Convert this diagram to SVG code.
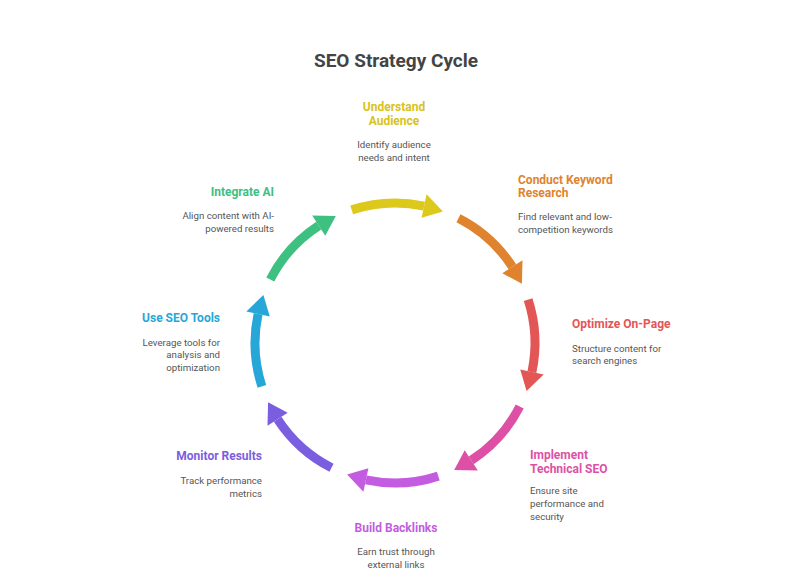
<svg xmlns="http://www.w3.org/2000/svg" xmlns:xlink="http://www.w3.org/1999/xlink" width="792" height="584" viewBox="0 0 792 584">
<style>
text{font-family:Roboto,"Liberation Sans",sans-serif}
.t{font-size:12px;font-weight:bold}
.d{font-size:9.7px;fill:#555}
.m{text-anchor:middle}.e{text-anchor:end}
</style>
<defs>
<g id="arr">
<path d="M351.7,209.9 A140,140 0 0 1 424.1,206.1" fill="none" stroke="currentColor" stroke-width="9"/>
<polygon points="421.6,217.8 426.6,194.3 442.9,211.4" fill="currentColor"/>
</g>
</defs>
<rect width="792" height="584" fill="#fff"/>
<text x="396" y="67" class="m" style="font-size:19px;font-weight:bold;fill:#444">SEO Strategy Cycle</text>
<g id="connectors">
<use xlink:href="#arr" color="#DDC81C"/>
<use xlink:href="#arr" color="#E0832F" transform="rotate(45 395 343)"/>
<use xlink:href="#arr" color="#E35656" transform="rotate(90 395 343)"/>
<use xlink:href="#arr" color="#DE50A6" transform="rotate(135 395 343)"/>
<use xlink:href="#arr" color="#C35CE0" transform="rotate(180 395 343)"/>
<use xlink:href="#arr" color="#7B5EE0" transform="rotate(225 395 343)"/>
<use xlink:href="#arr" color="#27A7D8" transform="rotate(270 395 343)"/>
<use xlink:href="#arr" color="#3DC080" transform="rotate(315 395 343)"/>
</g>
<g id="n1"><text class="t m" fill="#D9C21A" x="394" y="111">Understand</text><text class="t m" fill="#D9C21A" x="394" y="125">Audience</text><text class="d m" x="394" y="148">Identify audience</text><text class="d m" x="394" y="161">needs and intent</text></g>
<g id="n2"><text class="t" fill="#E0832F" x="518" y="184">Conduct Keyword</text><text class="t" fill="#E0832F" x="518" y="197">Research</text><text class="d" x="518" y="220">Find relevant and low-</text><text class="d" x="518" y="233">competition keywords</text></g>
<g id="n3"><text class="t" fill="#E35656" x="572" y="328">Optimize On-Page</text><text class="d" x="572" y="352">Structure content for</text><text class="d" x="572" y="364">search engines</text></g>
<g id="n4"><text class="t" fill="#DE50A6" x="530" y="459">Implement</text><text class="t" fill="#DE50A6" x="530" y="473">Technical SEO</text><text class="d" x="530" y="494">Ensure site</text><text class="d" x="530" y="507">performance and</text><text class="d" x="530" y="520">security</text></g>
<g id="n5"><text class="t m" fill="#C35CE0" x="396" y="532">Build Backlinks</text><text class="d m" x="396" y="555">Earn trust through</text><text class="d m" x="396" y="568">external links</text></g>
<g id="n6"><text class="t e" fill="#7B5EE0" x="262" y="460">Monitor Results</text><text class="d e" x="262" y="484">Track performance</text><text class="d e" x="262" y="497">metrics</text></g>
<g id="n7"><text class="t e" fill="#27A7D8" x="220" y="322">Use SEO Tools</text><text class="d e" x="220" y="346">Leverage tools for</text><text class="d e" x="220" y="358">analysis and</text><text class="d e" x="220" y="371">optimization</text></g>
<g id="n8"><text class="t e" fill="#3DC080" x="274" y="196">Integrate AI</text><text class="d e" x="274" y="219">Align content with AI-</text><text class="d e" x="274" y="232">powered results</text></g>
</svg>
